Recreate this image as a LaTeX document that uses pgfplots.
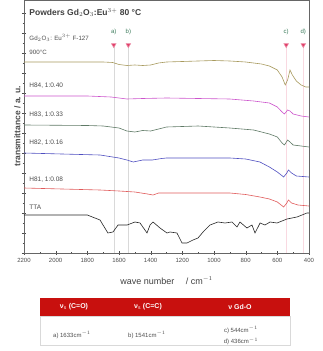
\documentclass[border=0pt]{standalone}
\usepackage{pgfplots}
\pgfplotsset{compat=1.18}
\usepackage{fontspec}
\setmainfont{Liberation Sans}
\definecolor{cOlive}{HTML}{A89A5E}
\definecolor{cMag}{HTML}{CC55CC}
\definecolor{cGreen}{HTML}{5F7A66}
\definecolor{cBlue}{HTML}{4F4FC0}
\definecolor{cRed}{HTML}{E05A5A}
\definecolor{cHead}{HTML}{C8100E}
\definecolor{cLet}{HTML}{3A7A5A}
\definecolor{cTri}{HTML}{E0406A}
\begin{document}
\begin{tikzpicture}[x=1pt,y=1pt]
\useasboundingbox (0,0) rectangle (323,351);
\begin{axis}[
  at={(24pt,98pt)}, anchor=south west,
  scale only axis, width=285pt, height=253pt,
  xmin=400, xmax=2200, x dir=reverse,
  ymin=0, ymax=253,
  xtick={400,600,...,2200},
  minor x tick num=1,
  ytick={0,20,...,240}, minor y tick num=1,
  yticklabels={},
  tick pos=left, tick align=center,
  major tick length=4pt, minor tick length=2.5pt,
  tick style={black!70},
  axis line style={black!60},
  xticklabel style={font=\fontsize{6}{7}\selectfont, text=black!70},
  /pgf/number format/assume math mode=true,
  /pgf/number format/1000 sep={},
  xlabel={wave number\quad\ / cm$^{-1}$},
  xlabel style={font=\fontsize{9}{10}\selectfont, text=black!75, yshift=-7pt},
  ylabel={transmittance / a. u.},
  ylabel style={font=\fontsize{8.5}{9}\selectfont\bfseries, text=black!70, yshift=-9pt},
  clip=false,
  every axis plot/.append style={line width=0.6pt},
]
% reference vertical lines
\addplot[black!15, line width=0.4pt] coordinates {(1633,0) (1633,208)};
\addplot[black!15, line width=0.4pt] coordinates {(1541,0) (1541,208)};
\addplot[cTri!20, line width=0.4pt] coordinates {(544,0) (544,208)};
\addplot[cTri!20, line width=0.4pt] coordinates {(436,0) (436,208)};
% markers
\addplot[only marks, mark=triangle*, mark options={rotate=180, fill=cTri, draw=cTri!60}, mark size=2.6pt]
  coordinates {(1633,208) (1541,208) (544,208) (436,208)};
% Gd2O3 reference
\addplot[cOlive] coordinates {
(2200,191) (1700,191) (1640,190.5) (1600,188.5) (1550,187.5) (1500,188) (1450,187.5)
(1400,188) (1350,190) (1300,191) (1200,191.5) (1100,192) (1000,192.5) (900,192)
(800,191) (700,189) (650,187) (600,183) (570,176) (550,168) (535,173) (520,183)
(505,178) (480,172) (450,168) (420,166) (400,166)};
% H84
\addplot[cMag] coordinates {
(2200,157) (1800,157) (1650,156) (1600,155) (1550,154) (1450,154.5) (1300,155)
(1100,154.5) (900,154) (750,152) (650,150) (600,146) (570,141) (555,139) (535,143)
(520,142) (500,139) (450,137) (400,136)};
% H83
\addplot[cGreen] coordinates {
(2200,128) (1800,127.5) (1700,127) (1600,125) (1550,122) (1500,121) (1450,122.5)
(1400,122) (1350,124) (1300,126) (1100,127) (900,125) (750,123) (650,119) (600,116)
(570,110) (555,108) (535,113) (520,111) (500,108) (450,107) (400,106)};
% H82
\addplot[cBlue] coordinates {
(2200,100) (1720,98) (1600,95) (1550,93) (1510,91) (1450,93) (1390,93) (1330,94.5)
(1300,95) (1100,95) (900,95) (800,94) (710,91) (650,86) (600,81) (560,76) (540,80)
(530,83) (510,80) (480,77) (400,76)};
% H81
\addplot[cRed] coordinates {
(2200,65) (1720,63) (1600,62) (1500,61) (1420,59) (1385,58) (1350,60) (1300,60)
(1100,60) (900,60) (800,58.5) (710,56) (650,54) (600,51) (560,46) (540,50) (530,53)
(510,50) (470,48) (400,47)};
% TTA
\addplot[black!85] coordinates {
(2200,38) (1800,38) (1720,33) (1670,20) (1638,21) (1606,28) (1549,28) (1499,31)
(1467,30) (1423,20) (1404,28) (1385,31) (1341,25) (1297,20) (1278,21) (1234,20)
(1202,10) (1171,10) (1133,13) (1101,15) (1069,21) (1025,28) (975,31) (930,30)
(886,31) (855,26) (836,31) (792,25) (760,28) (741,20) (709,30) (678,28) (646,31)
(602,30) (539,34) (476,36) (413,40) (400,40)};
% texts
\node[anchor=west, font=\fontsize{8.5}{9}\selectfont\bfseries, text=black!75] at (axis cs:2188,240) {Powders Gd$_2$O$_3$:Eu$^{3+}$ 80 °C};
\node[anchor=west, font=\fontsize{6.2}{7}\selectfont, text=black!70] at (axis cs:2188,215) {Gd$_2$O$_3$: Eu$^{3+}$ F-127};
\node[anchor=west, font=\fontsize{6.2}{7}\selectfont, text=black!70] at (axis cs:2188,201) {900°C};
\node[anchor=west, font=\fontsize{6.5}{7}\selectfont, text=black!70] at (axis cs:2188,167) {H84, 1:0.40};
\node[anchor=west, font=\fontsize{6.5}{7}\selectfont, text=black!70] at (axis cs:2188,138) {H83, 1:0.33};
\node[anchor=west, font=\fontsize{6.5}{7}\selectfont, text=black!70] at (axis cs:2188,110) {H82, 1:0.16};
\node[anchor=west, font=\fontsize{6.5}{7}\selectfont, text=black!70] at (axis cs:2188,73) {H81, 1:0.08};
\node[anchor=west, font=\fontsize{6.5}{7}\selectfont, text=black!70] at (axis cs:2188,46) {TTA};
\node[font=\fontsize{6}{7}\selectfont, text=cLet] at (axis cs:1633,221) {a)};
\node[font=\fontsize{6}{7}\selectfont, text=cLet] at (axis cs:1541,221) {b)};
\node[font=\fontsize{6}{7}\selectfont, text=cLet] at (axis cs:544,221) {c)};
\node[font=\fontsize{6}{7}\selectfont, text=cLet] at (axis cs:436,221) {d)};
\end{axis}
% table
\fill[cHead] (40,35) rectangle (290,53);
\draw[black!15, line width=0.5pt] (40,6) rectangle (290,35);
\node[text=white, font=\fontsize{7}{8}\selectfont\bfseries] at (74,44) {ν$_\mathrm{s}$ (C=O)};
\node[text=white, font=\fontsize{7}{8}\selectfont\bfseries] at (148,44) {ν$_\mathrm{s}$ (C=C)};
\node[text=white, font=\fontsize{7}{8}\selectfont\bfseries] at (240,44) {ν Gd-O};
\node[text=black!70, font=\fontsize{6}{7}\selectfont] at (72,16) {a) 1633cm$^{-1}$};
\node[text=black!70, font=\fontsize{6}{7}\selectfont] at (147,16) {b) 1541cm$^{-1}$};
\node[text=black!70, font=\fontsize{6}{7}\selectfont] at (241,21) {c) 544cm$^{-1}$};
\node[text=black!70, font=\fontsize{6}{7}\selectfont] at (241,9.5) {d) 436cm$^{-1}$};
\end{tikzpicture}
\end{document}
